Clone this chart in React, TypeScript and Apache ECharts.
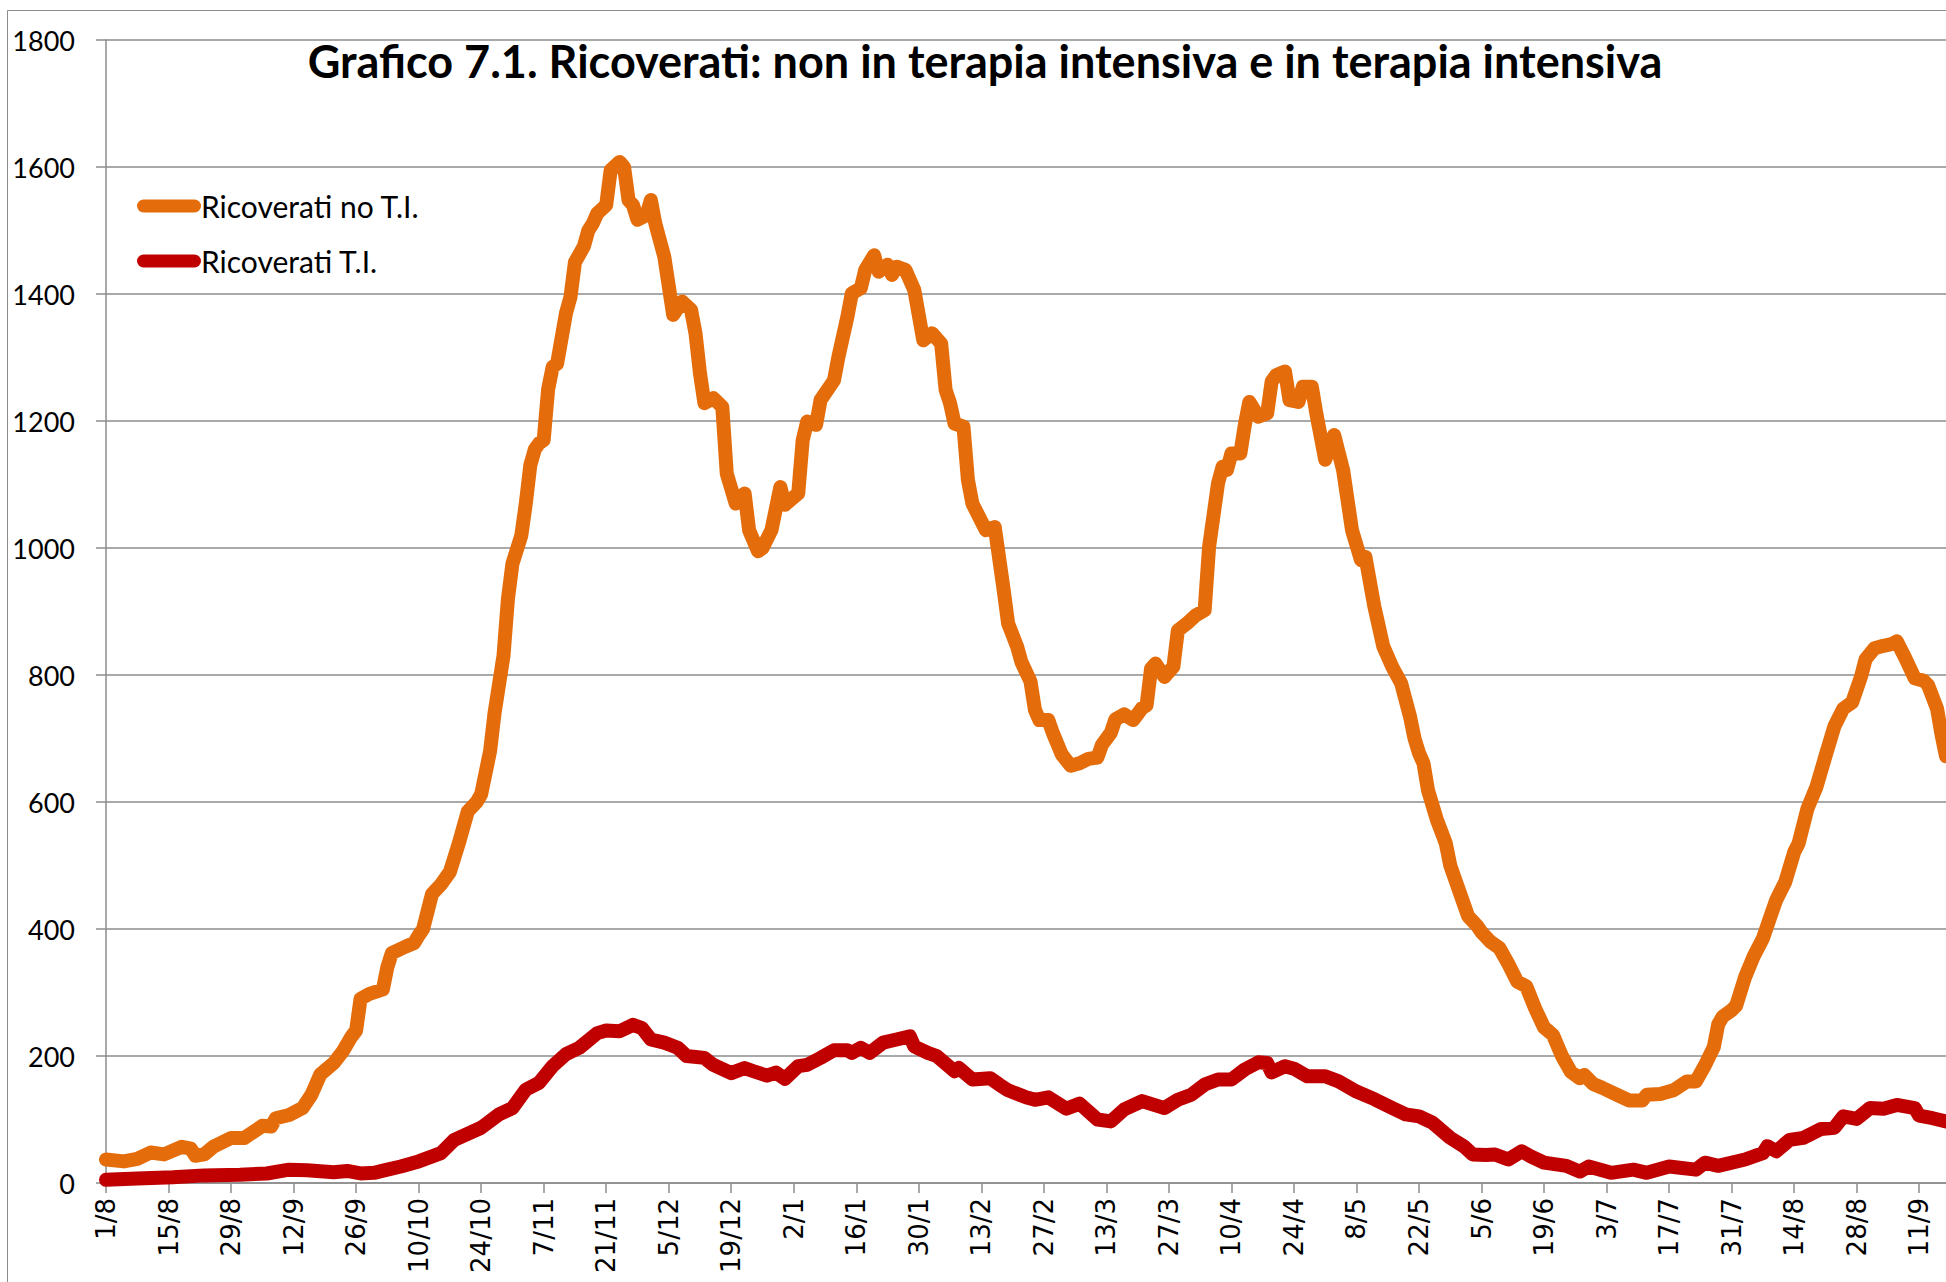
import React, { useEffect, useRef } from 'react';
import * as echarts from 'echarts';

const TITLE = 'Grafico 7.1. Ricoverati: non in terapia intensiva e in terapia intensiva';
const SERIES_NAMES = ['Ricoverati no T.I.', 'Ricoverati T.I.'];
const SERIES_COLORS = ['#E46C0A', '#C00000'];

// x: days elapsed since 1/8 (2020); one tick label every 14 days
const TICK_LABELS = ['1/8', '15/8', '29/8', '12/9', '26/9', '10/10', '24/10', '7/11', '21/11', '5/12', '19/12', '2/1', '16/1', '30/1', '13/2', '27/2', '13/3', '27/3', '10/4', '24/4', '8/5', '22/5', '5/6', '19/6', '3/7', '17/7', '31/7', '14/8', '28/8', '11/9'];
const LAST_DAY = 412;

const NO_TI_DAYS = [0, 4, 7, 10, 13, 17, 19, 20, 22, 24, 28, 31, 35, 37, 38, 41, 44, 46, 48, 51, 53, 55, 56, 57, 59, 62, 63, 64, 67, 69, 70, 71, 73, 75, 77, 79, 81, 83, 84, 86, 87, 89, 90, 91, 93, 94, 95, 96, 97, 98, 99, 100, 101, 102, 103, 104, 105, 107, 108, 109, 110, 112, 113, 115, 116, 117, 118, 119, 121, 122, 123, 125, 127, 129, 131, 132, 133, 134, 136, 138, 139, 141, 143, 144, 146, 147, 149, 151, 152, 155, 156, 157, 159, 160, 163, 164, 166, 167, 169, 170, 172, 173, 175, 176, 177, 179, 181, 183, 185, 187, 188, 189, 190, 192, 193, 194, 197, 199, 201, 202, 204, 205, 207, 208, 209, 211, 212, 214, 216, 218, 220, 222, 223, 225, 226, 228, 230, 232, 233, 234, 235, 237, 239, 240, 242, 244, 246, 247, 249, 250, 251, 252, 254, 255, 256, 258, 260, 261, 262, 264, 265, 267, 268, 270, 271, 273, 275, 277, 279, 281, 282, 284, 286, 288, 290, 292, 293, 294, 295, 296, 298, 300, 301, 302, 304, 305, 307, 308, 310, 312, 314, 316, 318, 320, 322, 324, 326, 328, 330, 331, 333, 335, 338, 341, 344, 345, 348, 351, 354, 356, 358, 360, 361, 362, 364, 365, 367, 369, 371, 373, 374, 376, 378, 379, 381, 383, 385, 387, 389, 391, 393, 394, 396, 398, 400, 401, 403, 405, 407, 408, 410, 411, 412];
const NO_TI_VALUES = [37, 34, 38, 48, 45, 57, 54, 43, 45, 57, 71, 71, 90, 89, 102, 107, 118, 139, 171, 189, 207, 231, 240, 290, 298, 305, 340, 362, 372, 378, 390, 400, 455, 470, 490, 535, 585, 600, 612, 680, 740, 830, 920, 975, 1020, 1070, 1130, 1155, 1165, 1170, 1250, 1285, 1290, 1330, 1370, 1395, 1450, 1475, 1500, 1511, 1527, 1540, 1595, 1608, 1600, 1548, 1540, 1517, 1524, 1548, 1511, 1459, 1367, 1388, 1375, 1338, 1275, 1228, 1236, 1222, 1117, 1070, 1086, 1028, 995, 1000, 1028, 1096, 1068, 1086, 1170, 1199, 1194, 1233, 1264, 1301, 1364, 1401, 1409, 1438, 1461, 1435, 1446, 1430, 1443, 1438, 1406, 1327, 1338, 1322, 1249, 1228, 1196, 1191, 1107, 1070, 1028, 1033, 934, 881, 845, 820, 790, 745, 729, 729, 709, 675, 657, 661, 668, 670, 690, 709, 730, 738, 729, 748, 752, 810, 818, 797, 813, 870, 881, 894, 902, 1002, 1102, 1128, 1123, 1149, 1149, 1194, 1230, 1207, 1212, 1262, 1272, 1278, 1233, 1230, 1254, 1254, 1212, 1139, 1178, 1123, 1028, 981, 986, 908, 845, 813, 787, 734, 700, 677, 661, 619, 572, 535, 500, 480, 440, 420, 405, 395, 380, 370, 345, 317, 310, 275, 245, 233, 200, 175, 165, 170, 156, 150, 140, 130, 130, 139, 140, 146, 160, 160, 185, 214, 250, 262, 272, 279, 324, 358, 385, 426, 446, 474, 521, 535, 590, 624, 672, 719, 747, 757, 798, 825, 842, 846, 849, 853, 825, 795, 791, 784, 747, 706, 672];

const TI_DAYS = [0, 7, 15, 22, 30, 36, 41, 45, 51, 54, 57, 60, 63, 66, 70, 75, 78, 84, 88, 91, 94, 97, 100, 103, 106, 110, 112, 115, 118, 120, 122, 125, 128, 130, 134, 136, 140, 143, 145, 148, 150, 152, 155, 157, 160, 163, 166, 167, 169, 171, 174, 177, 180, 181, 184, 186, 190, 191, 194, 198, 200, 202, 206, 208, 211, 215, 218, 222, 225, 228, 232, 237, 240, 243, 246, 249, 252, 255, 258, 260, 261, 264, 266, 269, 273, 276, 280, 284, 288, 291, 294, 297, 301, 304, 306, 309, 311, 314, 317, 319, 322, 327, 330, 332, 335, 337, 342, 345, 350, 356, 358, 361, 367, 371, 372, 374, 377, 380, 384, 387, 389, 392, 395, 398, 401, 405, 406, 409, 412];
const TI_VALUES = [5, 7, 9, 12, 13, 15, 21, 20, 17, 19, 15, 16, 21, 26, 34, 47, 68, 87, 108, 118, 147, 158, 184, 203, 213, 236, 240, 239, 249, 244, 226, 221, 213, 200, 197, 186, 173, 181, 176, 169, 174, 164, 184, 186, 197, 209, 209, 205, 213, 205, 221, 226, 231, 215, 205, 200, 176, 181, 163, 165, 155, 146, 135, 131, 135, 117, 125, 100, 97, 116, 129, 118, 131, 139, 155, 163, 163, 179, 190, 189, 174, 184, 180, 168, 168, 160, 144, 132, 118, 108, 105, 95, 71, 58, 45, 44, 45, 37, 50, 42, 32, 27, 18, 26, 20, 16, 21, 16, 26, 21, 32, 27, 37, 47, 58, 50, 68, 71, 85, 87, 105, 101, 118, 117, 123, 118, 106, 102, 97];

const Y_MIN = 0;
const Y_MAX = 1800;
const Y_STEP = 200;

const zip = (xs: number[], ys: number[]) => xs.map((x, i) => [x, ys[i]]);

const GRAY = '#8c8c8c';

export default function App() {
  const ref = useRef<HTMLDivElement>(null);

  useEffect(() => {
    const chart = echarts.init(ref.current as HTMLDivElement, null, { renderer: 'svg' });
    const option: any = {
      animation: false,
      backgroundColor: '#ffffff',
      textStyle: { fontFamily: 'Lato' },
      graphic: [
        {
          type: 'rect',
          silent: true,
          z: -10,
          shape: { x: 7.5, y: 10.5, width: 4000, height: 4000 },
          style: { fill: 'none', stroke: GRAY, lineWidth: 1 },
        },
        {
          type: 'text',
          silent: true,
          x: 985,
          y: 61,
          style: {
            text: TITLE,
            fontFamily: 'Lato',
            fontWeight: 'bold',
            fontSize: 45,
            fill: '#000000',
            align: 'center',
            verticalAlign: 'middle',
          },
        },
      ],
      legend: {
        orient: 'vertical',
        left: 132,
        top: 181,
        itemWidth: 64,
        itemHeight: 13,
        itemGap: 15,
        icon: 'path://M6.5,0 L57.5,0 A6.5,6.5 0 0 1 57.5,13 L6.5,13 A6.5,6.5 0 0 1 6.5,0 Z',
        textStyle: { fontFamily: 'Lato', fontSize: 30, color: '#000000', lineHeight: 40, padding: [0, 0, 0, -5] },
        data: SERIES_NAMES,
      },
      grid: { left: 106, right: 0, top: 40, bottom: 99, containLabel: false, outerBoundsMode: 'none' },
      xAxis: {
        type: 'value',
        min: 0,
        max: LAST_DAY,
        interval: 14,
        axisLine: { show: true, lineStyle: { color: GRAY, width: 1.5 } },
        axisTick: { show: true, length: 10, inside: false, lineStyle: { color: GRAY, width: 1.5 } },
        splitLine: { show: false },
        axisLabel: {
          rotate: 90,
          margin: 15,
          fontFamily: 'DejaVu Sans',
          fontSize: 26,
          color: '#000000',
          showMaxLabel: false,
          formatter: (v: number) => (v % 14 === 0 && TICK_LABELS[v / 14] !== undefined ? TICK_LABELS[v / 14] : ''),
        },
      },
      yAxis: {
        type: 'value',
        min: Y_MIN,
        max: Y_MAX,
        interval: Y_STEP,
        axisLine: { show: true, lineStyle: { color: GRAY, width: 1.5 } },
        axisTick: { show: true, length: 10, inside: false, lineStyle: { color: GRAY, width: 1.5 } },
        splitLine: { show: true, lineStyle: { color: GRAY, width: 1.5 } },
        axisLabel: {
          margin: 31,
          fontFamily: 'Lato',
          fontSize: 27,
          color: '#000000',
          formatter: (v: number) => String(v),
        },
      },
      series: [
        {
          type: 'line',
          name: SERIES_NAMES[0],
          data: zip(NO_TI_DAYS, NO_TI_VALUES),
          showSymbol: false,
          symbol: 'none',
          z: 2,
          itemStyle: { color: SERIES_COLORS[0] },
          lineStyle: { color: SERIES_COLORS[0], width: 14, cap: 'round', join: 'round' },
        },
        {
          type: 'line',
          name: SERIES_NAMES[1],
          data: zip(TI_DAYS, TI_VALUES),
          showSymbol: false,
          symbol: 'none',
          z: 3,
          itemStyle: { color: SERIES_COLORS[1] },
          lineStyle: { color: SERIES_COLORS[1], width: 14, cap: 'round', join: 'round' },
        },
      ],
    };
    chart.setOption(option);
    return () => chart.dispose();
  }, []);

  return (
    <div
      ref={ref}
      style={{ position: 'fixed', left: 0, top: 0, width: 1946, height: 1282, background: '#ffffff' }}
    />
  );
}
